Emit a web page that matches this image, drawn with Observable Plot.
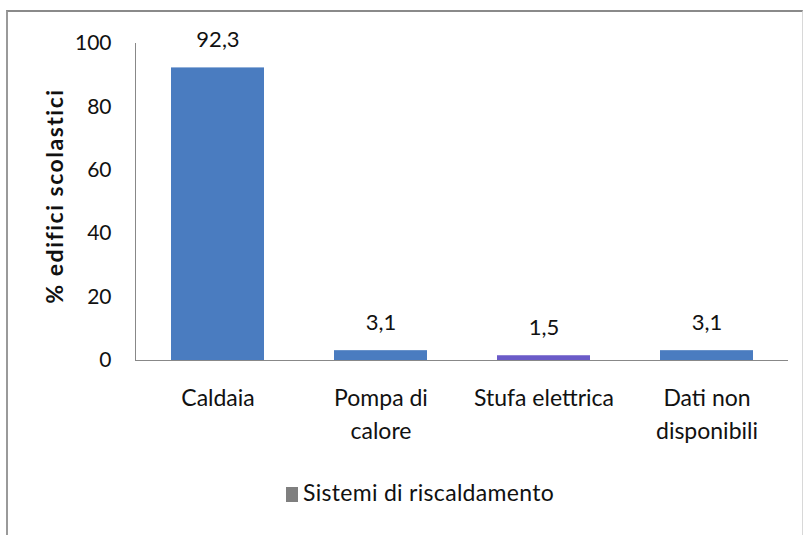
<!DOCTYPE html>
<html>
<head>
<meta charset="utf-8">
<script src="https://cdn.jsdelivr.net/npm/d3@7"></script>
<script src="https://cdn.jsdelivr.net/npm/@observablehq/plot@0.6"></script>
<style>
  html, body { margin: 0; padding: 0; background: #fff; }
  #wrap { position: relative; width: 807px; height: 535px; overflow: hidden; font-family: Lato, "Open Sans", sans-serif; }
  #frame { position: absolute; left: 6px; top: 10px; width: 797px; height: 530px; border-top: 2px solid #8a8a8a; border-left: 2px solid #9a9a9a; border-right: 1px solid #d8d8d8; box-sizing: border-box; }
  #chart { position: absolute; left: 0; top: 0; }
  #legend { position: absolute; left: 0; width: 840px; top: 478px; text-align: center; font-size: 23px; font-weight: 400; color: #111; letter-spacing: 0.3px; }
  #legend .sw { display: inline-block; width: 12px; height: 15px; background: #7f7f7f; margin-right: 5px; vertical-align: -1px; }
  .ylab { letter-spacing: 1.5px; }
</style>
</head>
<body>
<div id="wrap">
  <div id="frame"></div>
  <div id="chart"></div>
  <div id="legend"><span class="sw"></span>Sistemi di riscaldamento</div>
</div>
<script>
const categories = ["Caldaia", "Pompa di\ncalore", "Stufa elettrica", "Dati non\ndisponibili"];
const values = [92.3, 3.1, 1.5, 3.1];
const valueLabels = ["92,3", "3,1", "1,5", "3,1"];
const barColors = ["#4a7cc0", "#4a7cc0", "#6b5bc8", "#4a7cc0"];
const yTicks = [0, 20, 40, 60, 80, 100];
const yLabel = "% edifici scolastici";

const data = categories.map((c, i) => ({cat: c, value: values[i], label: valueLabels[i], color: barColors[i]}));

const plot = Plot.plot({
  width: 807,
  height: 535,
  marginTop: 43,
  marginBottom: 175,
  marginLeft: 135,
  marginRight: 19,
  style: {fontFamily: "Lato, 'Open Sans', sans-serif", background: "transparent", color: "#111"},
  x: {domain: categories, paddingInner: 0.43, paddingOuter: 0.215},
  y: {domain: [0, 100], ticks: yTicks},
  marks: [
    Plot.axisY({ticks: yTicks, tickSize: 0, tickPadding: 24, fontSize: 21, label: null}),
    Plot.axisX({tickSize: 0, tickPadding: 22, fontSize: 23, label: null, lineHeight: 1.43}),
    Plot.text([yLabel], {frameAnchor: "left", dx: -80, dy: -6, rotate: -90, textAnchor: "middle", fontSize: 23, fontWeight: 700, text: d => d}),
    Plot.barY(data, {x: "cat", y: "value", fill: "color"}),
    Plot.frame({anchor: "left", stroke: "#888"}),
    Plot.ruleY([0], {stroke: "#888"}),
    Plot.text(data, {x: "cat", y: "value", text: "label", dy: -28, fontSize: 22, fill: "#111"})
  ]
});
d3.select(plot).selectAll("text").filter(function() { return this.textContent === yLabel; }).attr("class", "ylab");
document.getElementById("chart").appendChild(plot);
</script>
</body>
</html>
